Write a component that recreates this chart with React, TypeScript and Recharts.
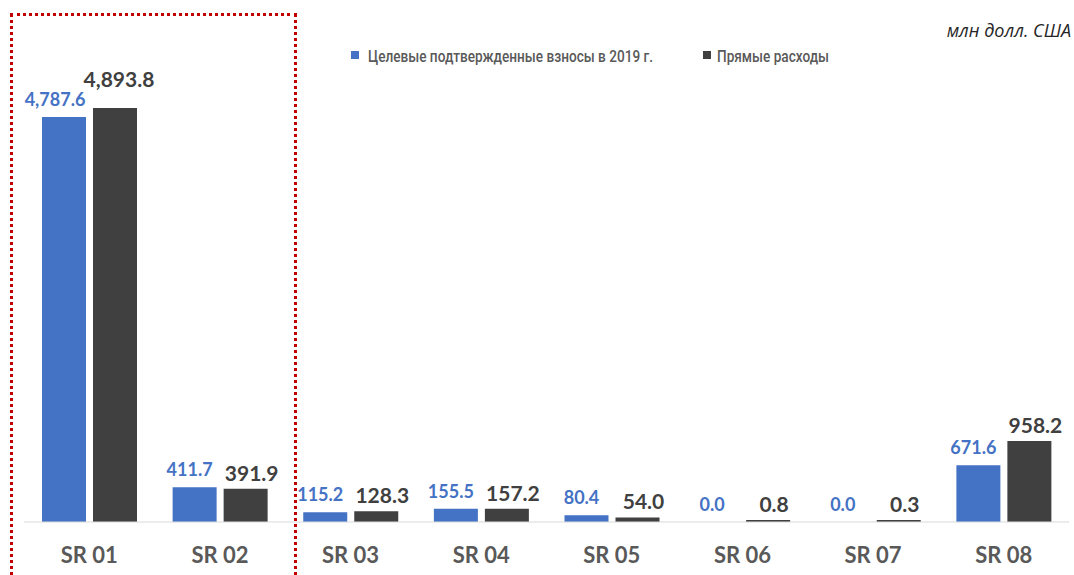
import React from "react";
import { BarChart, Bar, XAxis, YAxis, LabelList } from "recharts";

const categories = ["SR 01", "SR 02", "SR 03", "SR 04", "SR 05", "SR 06", "SR 07", "SR 08"];
const targeted = [4787.6, 411.7, 115.2, 155.5, 80.4, 0.0, 0.0, 671.6];
const direct = [4893.8, 391.9, 128.3, 157.2, 54.0, 0.8, 0.3, 958.2];
const seriesNames = ["Целевые подтвержденные взносы в 2019 г.", "Прямые расходы"];
const unitLabel = "млн долл. США";

const data = categories.map((c, i) => ({ name: c, targeted: targeted[i], direct: direct[i] }));

const BLUE = "#4472c4";
const DARK = "#404040";
const GRAY = "#595959";
const FONT = "Lato, 'Open Sans', sans-serif";

const fmt = (v: number) =>
  v.toLocaleString("en-US", { minimumFractionDigits: 1, maximumFractionDigits: 1 });

const makeLabel = (color: string, size: number, gap: number, nudge: (i: number) => [number, number]) =>
  (props: any) => {
    const { x, y, width, value, index } = props;
    const [ndx, ndy] = nudge(index);
    return (
      <text
        x={Number(x) + Number(width) / 2 + ndx}
        y={Number(y) - gap + ndy}
        textAnchor="middle"
        fill={color}
        fontSize={size}
        fontWeight={700}
        fontFamily={FONT}
      >
        {fmt(Number(value))}
      </text>
    );
  };

const blueLabel = makeLabel(BLUE, 18, 11, (i) => (i === 0 ? [-9, 0] : [-5, 0]));
const darkLabel = makeLabel(DARK, 21, 8, (i) => (i === 0 ? [4, -13] : [6, 0]));

export default function App() {
  return (
    <div
      style={{
        position: "absolute",
        left: 0,
        top: 0,
        width: 1074,
        height: 575,
        overflow: "hidden",
        background: "#ffffff",
      }}
    >
      <BarChart
        width={1074}
        height={575}
        data={data}
        margin={{ top: 99, right: 5, left: 24, bottom: 13 }}
        barCategoryGap={18}
        barGap={7}
      >
        <XAxis
          dataKey="name"
          axisLine={{ stroke: "#d9d9d9", strokeWidth: 1 }}
          tickLine={false}
          height={40}
          tickMargin={19}
          interval={0}
          tick={{ fill: GRAY, fontSize: 22, fontWeight: 700, fontFamily: FONT }}
        />
        <YAxis hide domain={[0, 5000]} />
        <Bar
          dataKey="targeted"
          fill={BLUE}
          isAnimationActive={false}
          minPointSize={(v: number) => (v === 0 ? 0.01 : 0)}
        >
          <LabelList dataKey="targeted" content={blueLabel} />
        </Bar>
        <Bar dataKey="direct" fill={DARK} isAnimationActive={false} minPointSize={2}>
          <LabelList dataKey="direct" content={darkLabel} />
        </Bar>
      </BarChart>

      <div
        style={{
          position: "absolute",
          left: 10,
          top: 13,
          width: 281,
          height: 600,
          border: "3px dotted #c00000",
          boxSizing: "content-box",
          pointerEvents: "none",
        }}
      />

      <svg
        width={1074}
        height={80}
        style={{ position: "absolute", left: 0, top: 0, pointerEvents: "none" }}
      >
        <rect x={351} y={51} width={8} height={8} fill={BLUE} />
        <text
          x={368}
          y={62}
          fontFamily="Roboto, 'Noto Sans', sans-serif"
          fontSize={17}
          fontWeight={500}
          fill={GRAY}
          textLength={285}
          lengthAdjust="spacingAndGlyphs"
        >
          {seriesNames[0]}
        </text>
        <rect x={703} y={51} width={8} height={8} fill={DARK} />
        <text
          x={717}
          y={62}
          fontFamily="Roboto, 'Noto Sans', sans-serif"
          fontSize={17}
          fontWeight={500}
          fill={GRAY}
          textLength={112}
          lengthAdjust="spacingAndGlyphs"
        >
          {seriesNames[1]}
        </text>
        <text
          x={1071}
          y={37}
          textAnchor="end"
          fontFamily="'Open Sans', sans-serif"
          fontStyle="italic"
          fontSize={18}
          fill="#262626"
        >
          {unitLabel}
        </text>
      </svg>
    </div>
  );
}
